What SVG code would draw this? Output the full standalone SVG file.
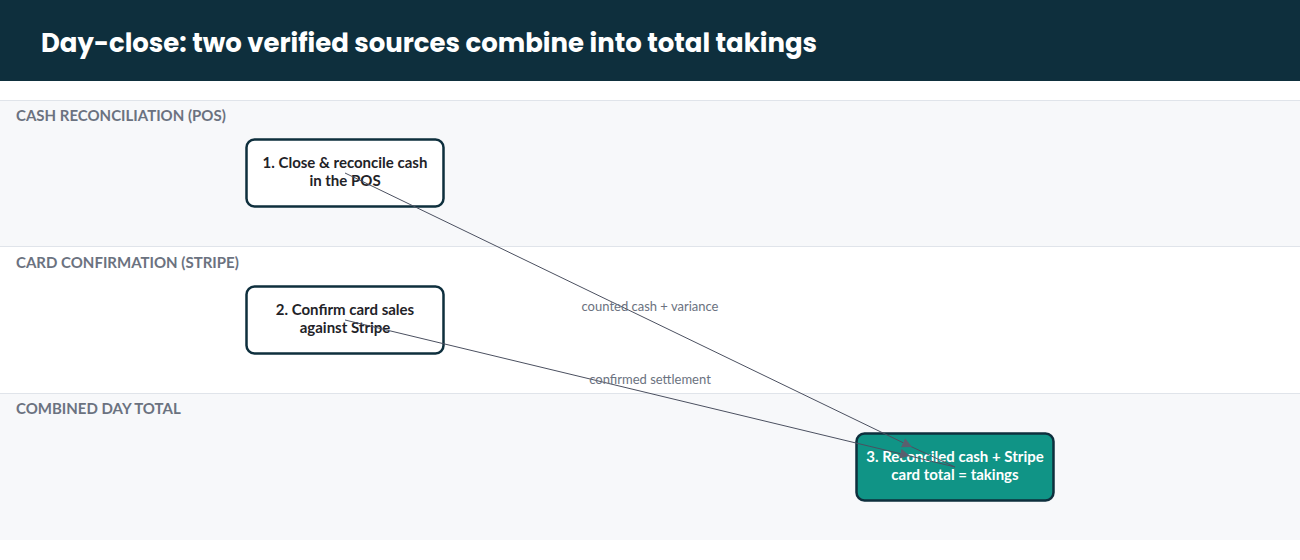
<svg xmlns="http://www.w3.org/2000/svg" width="1300" height="560" viewBox="0 0 1300 560">
  <style>
    .lane-label { font-family: Lato, "Liberation Sans", sans-serif; font-weight: 700; font-size: 15px; fill: #6b7280; }
    .node rect { stroke: #0e2f3d; stroke-width: 2.5; }
    .node text { font-family: Lato, "Liberation Sans", sans-serif; font-weight: 700; font-size: 15px; text-anchor: middle; }
    .plain rect { fill: #ffffff; }
    .plain text { fill: #1f2328; }
    .final rect { fill: #109486; }
    .final text { fill: #ffffff; }
    .edge { fill: none; stroke: #4b5060; stroke-width: 1; }
    .edge-label { font-family: Lato, "Liberation Sans", sans-serif; font-size: 13px; fill: #6b7280; text-anchor: middle; }
  </style>
  <defs>
    <marker id="arrow" viewBox="0 0 10 10" refX="10" refY="5" markerWidth="10" markerHeight="10" markerUnits="userSpaceOnUse" orient="auto">
      <path d="M0,0 L10,5 L0,10 z" fill="#5a5f6e"/>
    </marker>
  </defs>
  <rect x="0" y="0" width="1300" height="560" fill="#ffffff"/>
  <g id="title">
    <rect x="0" y="0" width="1300" height="81" fill="#0e2f3d"/>
    <text x="41" y="52" font-family="Poppins, Inter, 'Liberation Sans', sans-serif" font-weight="700" font-size="26" fill="#ffffff" textLength="776" lengthAdjust="spacingAndGlyphs">Day-close: two verified sources combine into total takings</text>
  </g>
  <g id="lanes">
    <rect x="0" y="100" width="1300" height="146" fill="#f7f8fa"/>
    <rect x="0" y="246" width="1300" height="147" fill="#ffffff"/>
    <rect x="0" y="393" width="1300" height="147" fill="#f7f8fa"/>
    <line x1="0" y1="100.5" x2="1300" y2="100.5" stroke="#e0e4ea" stroke-width="1"/>
    <line x1="0" y1="246.5" x2="1300" y2="246.5" stroke="#e0e4ea" stroke-width="1"/>
    <line x1="0" y1="393.5" x2="1300" y2="393.5" stroke="#e0e4ea" stroke-width="1"/>
    <text class="lane-label" x="16" y="121">CASH RECONCILIATION (POS)</text>
    <text class="lane-label" x="16" y="268">CARD CONFIRMATION (STRIPE)</text>
    <text class="lane-label" x="16" y="414">COMBINED DAY TOTAL</text>
  </g>
  <g id="node1" class="node plain">
    <rect x="246.5" y="139.5" width="197" height="67" rx="8"/>
    <text x="345" y="168">1. Close &amp; reconcile cash</text>
    <text x="345" y="186">in the POS</text>
  </g>
  <g id="node2" class="node plain">
    <rect x="246.5" y="286.5" width="197" height="67" rx="8"/>
    <text x="345" y="315">2. Confirm card sales</text>
    <text x="345" y="333">against Stripe</text>
  </g>
  <g id="node3" class="node final">
    <rect x="856.5" y="433.5" width="197" height="67" rx="8"/>
    <text x="955" y="462">3. Reconciled cash + Stripe</text>
    <text x="955" y="480">card total = takings</text>
  </g>
  <g id="connectors">
    <path class="edge" d="M345,173 L912,447 L955,467" marker-mid="url(#arrow)"/>
    <path class="edge" d="M345,320 L910,456 L955,467" marker-mid="url(#arrow)"/>
    <text class="edge-label" x="650" y="311">counted cash + variance</text>
    <text class="edge-label" x="650" y="384">confirmed settlement</text>
  </g>
</svg>
